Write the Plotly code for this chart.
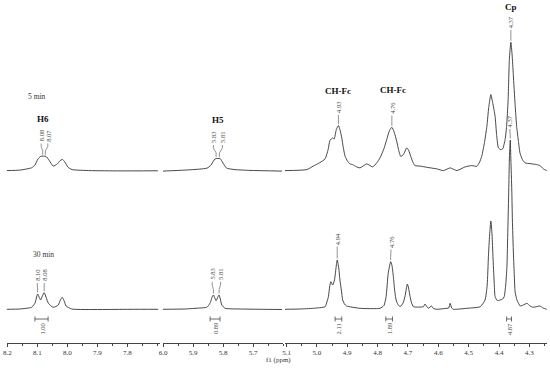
import plotly.graph_objects as go

# ---------------- data ----------------
seg1_range = [8.202, 7.691]
seg2_range = [6.000, 5.600]
seg3_range = [5.105, 4.242]

ticks_seg1 = [8.2, 8.1, 8.0, 7.9, 7.8]
ticks_seg2 = [6.0, 5.9, 5.8, 5.7]
ticks_seg3 = [5.1, 5.0, 4.9, 4.8, 4.7, 4.6, 4.5, 4.4, 4.3]

# 5 min spectrum (intensity above its own baseline)
ppm_5min_s1 = [8.202, 8.158, 8.119, 8.108, 8.098, 8.089, 8.080, 8.071, 8.061, 8.047, 8.034, 8.024,
               8.016, 8.008, 7.998, 7.984, 7.924, 7.824, 7.698]
int_5min_s1 = [0, 0.5, 2.8, 5.5, 11.5, 14.2, 14.5, 14.2, 10.5, 4.5, 6.5, 10, 11.2, 8.5, 3.5, 1, 0, -0.3, -0.2]

ppm_5min_s2 = [6.000, 5.927, 5.877, 5.853, 5.840, 5.830, 5.823, 5.817, 5.810, 5.800, 5.788, 5.760, 5.710, 5.603]
int_5min_s2 = [-0.5, 0.5, 1.5, 2.5, 5.5, 10.5, 12.2, 12, 12.2, 7.5, 2.5, 1, 0.2, -0.5]

ppm_5min_s3 = [5.105, 5.033, 5.012, 4.990, 4.973, 4.963, 4.957, 4.948, 4.943, 4.936, 4.929, 4.924, 4.918,
               4.913, 4.907, 4.899, 4.891, 4.882, 4.871, 4.858, 4.836, 4.816, 4.802, 4.792, 4.779, 4.770,
               4.761, 4.753, 4.746, 4.737, 4.731, 4.724, 4.715, 4.704, 4.698, 4.691, 4.683, 4.677, 4.660,
               4.638, 4.605, 4.583, 4.561, 4.539, 4.512, 4.490, 4.473, 4.464, 4.457, 4.448, 4.440, 4.434,
               4.427, 4.421, 4.413, 4.408, 4.402, 4.395, 4.388, 4.380, 4.375, 4.370, 4.366, 4.361, 4.357,
               4.353, 4.347, 4.342, 4.336, 4.331, 4.323, 4.314, 4.298, 4.276, 4.265, 4.254, 4.243]
int_5min_s3 = [0, 1, 4.5, 8, 11.7, 21, 30, 32.7, 31.5, 41, 45, 41, 32.7,
               23, 14.3, 9.5, 6.7, 6, 4, 2.7, 6.7, 3.7, 8, 12.7, 22, 31,
               40, 43.3, 39, 29.3, 21, 14.3, 16, 22.7, 20.5, 14.3, 8, 5, 4.5,
               3.3, 1.7, 0, 2.7, 0, 3.7, 5, 4.3, 8.5, 14.3, 28, 44.3, 63,
               76, 68, 54.3, 36, 22.7, 21, 21.7, 31, 44.3, 71, 111, 128.3, 116,
               96, 66, 44.3, 29, 17.7, 11, 7.7, 7, 6, 5, 1.7, 0]

# 30 min spectrum (intensity above its own baseline)
ppm_30min_s1 = [8.202, 8.158, 8.119, 8.108, 8.103, 8.099, 8.094, 8.089, 8.083, 8.077, 8.071, 8.063,
                8.054, 8.047, 8.038, 8.030, 8.023, 8.017, 8.011, 8.004, 7.985, 7.891, 7.791, 7.697]
int_30min_s1 = [0, 0.3, 2, 6, 11.3, 15.3, 12.3, 9.3, 13.3, 16.6, 12.3, 6,
                3.3, 2, 2.8, 4.3, 9.3, 12, 8.8, 3.3, 0.3, -0.2, 0, 0]

ppm_30min_s2 = [6.000, 5.927, 5.877, 5.854, 5.847, 5.841, 5.837, 5.832, 5.828, 5.823, 5.818, 5.813,
                5.809, 5.804, 5.793, 5.743, 5.677, 5.603]
int_30min_s2 = [0, 0.3, 1.3, 2, 4.3, 7.6, 11.8, 14.3, 11.8, 8.6, 11.8, 14.3,
                10.3, 4.3, 1, 0.3, 0, -0.2]

ppm_30min_s3 = [5.105, 5.056, 5.012, 4.973, 4.967, 4.962, 4.958, 4.954, 4.948, 4.942, 4.937, 4.933,
                4.928, 4.924, 4.919, 4.915, 4.909, 4.902, 4.858, 4.792, 4.779, 4.772, 4.765, 4.757,
                4.753, 4.748, 4.744, 4.739, 4.733, 4.726, 4.716, 4.710, 4.702, 4.698, 4.693, 4.688,
                4.682, 4.649, 4.644, 4.638, 4.633, 4.622, 4.616, 4.605, 4.578, 4.566, 4.561, 4.556,
                4.550, 4.506, 4.462, 4.446, 4.439, 4.435, 4.431, 4.427, 4.423, 4.420, 4.416, 4.413,
                4.406, 4.396, 4.388, 4.383, 4.378, 4.374, 4.371, 4.368, 4.366, 4.363, 4.361, 4.358,
                4.356, 4.353, 4.350, 4.347, 4.341, 4.330, 4.320, 4.308, 4.298, 4.287, 4.265, 4.255, 4.243]
int_30min_s3 = [0, 0.3, 1, 2.6, 7.3, 12.6, 22.3, 27.6, 24.3, 29.3, 41.3, 49.3,
                41.3, 29.3, 18.3, 9.3, 5.3, 3.3, 1, 1, 3.8, 12.6, 36, 47.6,
                44.3, 32.6, 19.3, 9.3, 4.8, 2.6, 6.3, 12.6, 25.3, 21.3, 12.6, 6.3,
                2.6, 2.6, 5.3, 2.8, 1, 3.3, 0.8, 0, 0.8, 1.3, 6, 1.3,
                0, 1, 2.6, 9.3, 24.3, 52.6, 74.3, 88.3, 74.3, 52.6, 27.3, 12.6,
                8.8, 9.3, 10.3, 12.6, 24.3, 42.6, 79.3, 119.3, 149.3, 169.3, 149.3, 119.3,
                89.3, 59.3, 36, 17.3, 9.3, 3.3, 4.3, 6, 3.3, 2, 3.3, 1.3, 0]

# peak labels: (axis, text, label ppm, label height, peak ppm, spectrum)
peak_labels = [
    ("x", "8.08", 8.087, 207.0, 8.082, "5"),
    ("x", "8.07", 8.065, 207.0, 8.073, "5"),
    ("x2", "5.83", 5.832, 205.5, 5.823, "5"),
    ("x2", "5.81", 5.802, 205.5, 5.812, "5"),
    ("x3", "4.93", 4.929, 235.5, 4.929, "5"),
    ("x3", "4.76", 4.753, 235.0, 4.753, "5"),
    ("x3", "4.37", 4.361, 320.5, 4.361, "5"),
    ("x", "8.10", 8.100, 67.5, 8.099, "30"),
    ("x", "8.08", 8.077, 67.5, 8.077, "30"),
    ("x2", "5.83", 5.836, 68.7, 5.832, "30"),
    ("x2", "5.81", 5.808, 68.7, 5.813, "30"),
    ("x3", "4.94", 4.933, 104.0, 4.933, "30"),
    ("x3", "4.76", 4.756, 101.0, 4.757, "30"),
    ("x3", "4.37", 4.364, 221.5, 4.363, "30"),
]

# integrals of the 30 min spectrum: (axis, text, from ppm, to ppm)
integrals = [
    ("x", "1.00", 8.108, 8.064),
    ("x2", "0.89", 5.843, 5.810),
    ("x3", "2.11", 4.940, 4.918),
    ("x3", "1.89", 4.773, 4.751),
    ("x3", "4.87", 4.375, 4.359),
]

# group labels: (axis, text, ppm, height)
group_labels = [
    ("x", "H6", 8.080, 223.7),
    ("x2", "H5", 5.816, 223.0),
    ("x3", "CH-Fc", 4.929, 252.0),
    ("x3", "CH-Fc", 4.748, 253.0),
    ("x3", "Cp", 4.361, 336.0),
]
time_labels = [("x", "5 min", 8.102, 246.3), ("x", "30 min", 8.080, 88.7)]

# ---------------- styling / layout ----------------
W, H = 550, 368
PLOT_H = 343
OFFSET_5 = 172.4
OFFSET_30 = 33.7
SERIF = "Liberation Serif, Times New Roman, serif"
LINE = "#333333"

fig = go.Figure()

spectra = {
    "5": [("x", ppm_5min_s1, int_5min_s1), ("x2", ppm_5min_s2, int_5min_s2), ("x3", ppm_5min_s3, int_5min_s3)],
    "30": [("x", ppm_30min_s1, int_30min_s1), ("x2", ppm_30min_s2, int_30min_s2), ("x3", ppm_30min_s3, int_30min_s3)],
}
offsets = {"5": OFFSET_5, "30": OFFSET_30}

for key, segs in spectra.items():
    for ax, xs, ys in segs:
        fig.add_trace(go.Scatter(
            x=xs, y=[v + offsets[key] for v in ys], xaxis=ax, yaxis="y",
            mode="lines", line=dict(color=LINE, width=0.9, shape="spline", smoothing=0.5),
            showlegend=False, hoverinfo="skip"))


def peak_height(key, ax, ppm):
    for a, xs, ys in spectra[key]:
        if a == ax:
            best = max((v for x, v in zip(xs, ys) if abs(x - ppm) < 0.004), default=0)
            return best + offsets[key]
    return offsets[key]


annotations = []
shapes = []
for ax, txt, lppm, ly, pppm, key in peak_labels:
    annotations.append(dict(x=lppm, y=ly, xref=ax, yref="y", text=txt, textangle=-90, showarrow=False,
                            xanchor="center", yanchor="middle",
                            font=dict(family=SERIF, size=6.5, color="#444")))
    top = peak_height(key, ax, pppm)
    y0 = ly - 7.5
    y1 = y0 - 3
    y3 = top + 1.5
    y2 = max(y3 + 0.5, min(y1 - 3, y3 + 4))
    path = f"M {lppm},{y0} L {lppm},{y1} L {pppm},{y2} L {pppm},{y3}"
    shapes.append(dict(type="path", path=path, xref=ax, yref="y", line=dict(color="#666", width=0.7)))

for ax, txt, a, b in integrals:
    yb = PLOT_H - 319
    shapes.append(dict(type="line", xref=ax, yref="y", x0=a, x1=b, y0=yb, y1=yb, line=dict(color="#444", width=0.8)))
    for e in (a, b):
        shapes.append(dict(type="line", xref=ax, yref="y", x0=e, x1=e, y0=yb - 2.5, y1=yb + 2.5,
                           line=dict(color="#444", width=0.8)))
    annotations.append(dict(x=(a + b) / 2, y=yb - 10, xref=ax, yref="y", text=txt, textangle=-90,
                            showarrow=False, xanchor="center", yanchor="middle",
                            font=dict(family=SERIF, size=6.5, color="#444")))

for ax, txt, ppm, y in group_labels:
    annotations.append(dict(x=ppm, y=y, xref=ax, yref="y", text=f"<b>{txt}</b>", showarrow=False,
                            xanchor="center", yanchor="middle",
                            font=dict(family=SERIF, size=9, color="#111")))
for ax, txt, ppm, y in time_labels:
    annotations.append(dict(x=ppm, y=y, xref=ax, yref="y", text=txt, showarrow=False,
                            xanchor="center", yanchor="middle",
                            font=dict(family=SERIF, size=7.5, color="#333")))

annotations.append(dict(x=278 / W, y=(PLOT_H - 360) / PLOT_H, xref="paper", yref="paper", text="f1 (ppm)",
                        showarrow=False, xanchor="center", yanchor="middle",
                        font=dict(family=SERIF, size=7, color="#333")))


def xaxis(domain, rng, ticks):
    return dict(domain=domain, range=rng, autorange=False, anchor="y",
                showline=True, linecolor="#444", linewidth=0.9, mirror=False,
                ticks="outside", ticklen=3, tickwidth=0.8, tickcolor="#444",
                tickmode="array", tickvals=ticks, ticktext=[f"{t:.1f}" for t in ticks],
                tickfont=dict(family=SERIF, size=7, color="#333"),
                minor=dict(ticks="outside", ticklen=2, tickwidth=0.8, tickcolor="#444", dtick=0.05, tick0=0,
                           showgrid=False),
                showgrid=False, zeroline=False, automargin=False, fixedrange=True)


fig.update_layout(
    width=W, height=H,
    margin=dict(l=0, r=0, t=0, b=H - PLOT_H, autoexpand=False),
    paper_bgcolor="white", plot_bgcolor="white",
    xaxis=xaxis([6.7 / W, 160 / W], seg1_range, ticks_seg1),
    xaxis2=xaxis([163 / W, 283 / W], seg2_range, ticks_seg2),
    xaxis3=xaxis([285 / W, 547 / W], seg3_range, ticks_seg3),
    yaxis=dict(domain=[0, 1], range=[0, PLOT_H], visible=False, fixedrange=True),
    annotations=annotations,
    shapes=shapes,
    showlegend=False,
)

fig.write_html("out.html", config={"displayModeBar": False},
               post_script="document.body.style.margin='0';document.body.style.overflow='hidden';")
